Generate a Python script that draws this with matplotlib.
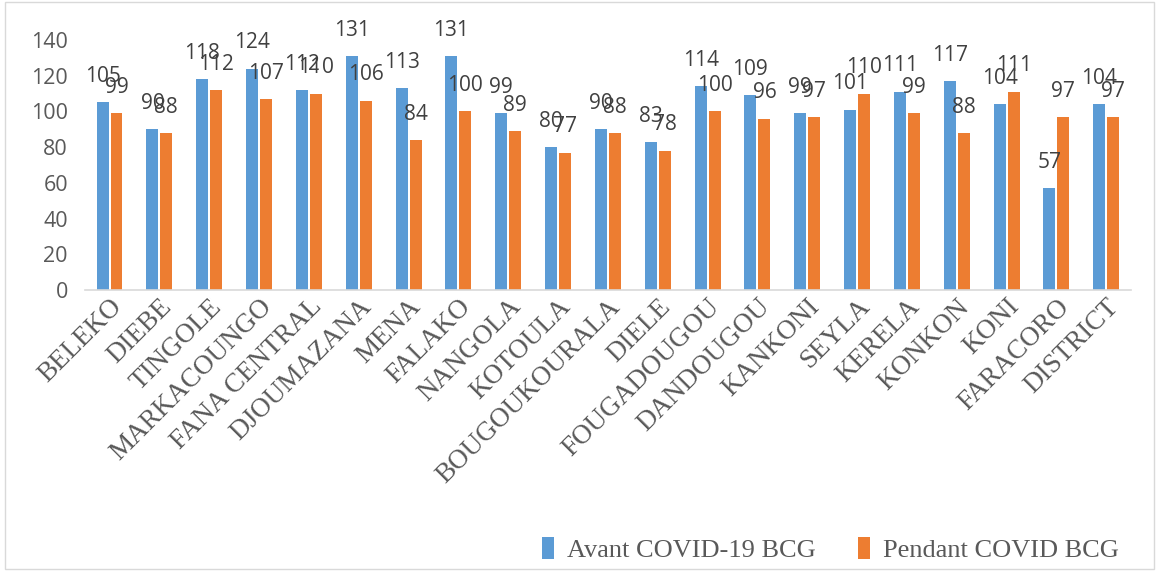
import numpy as np
import matplotlib
matplotlib.use("Agg")
from matplotlib import pyplot as plt
from matplotlib.patches import Rectangle

# aires de sante et couverture BCG
aires = ["BELEKO", "DIEBE", "TINGOLE", "MARKACOUNGO", "FANA CENTRAL", "DJOUMAZANA",
         "MENA", "FALAKO", "NANGOLA", "KOTOULA", "BOUGOUKOURALA", "DIELE",
         "FOUGADOUGOU", "DANDOUGOU", "KANKONI", "SEYLA", "KERELA", "KONKON",
         "KONI", "FARACORO", "DISTRICT"]
avant = [105, 90, 118, 124, 112, 131, 113, 131, 99, 80, 90, 83,
         114, 109, 99, 101, 111, 117, 104, 57, 104]
pendant = [99, 88, 112, 107, 110, 106, 84, 100, 89, 77, 88, 78,
           100, 96, 97, 110, 99, 88, 111, 97, 97]
y_ticks = [0, 20, 40, 60, 80, 100, 120, 140]

bleu = "#5B9BD5"
orange = "#ED7D31"

fig = plt.figure(figsize=(11.59, 5.71), dpi=100)
ax = fig.add_axes([0.073, 0.492, 0.903, 0.438])

x = np.arange(len(aires))
w = 0.24
b1 = ax.bar(x - w / 2 - 0.02, avant, w, color=bleu, label="Avant COVID-19 BCG")
b2 = ax.bar(x + w / 2 + 0.02, pendant, w, color=orange, label="Pendant COVID BCG")

for bars, vals in ((b1, avant), (b2, pendant)):
    for r, v in zip(bars, vals):
        ax.annotate(str(v), (r.get_x() + r.get_width() / 2, v),
                    xytext=(0, 11), textcoords="offset points",
                    ha="center", va="bottom", fontsize=15,
                    color="#404040", family="Open Sans")

ax.set_ylim(0, 140)
ax.set_xlim(-0.5, len(aires) - 0.5)
ax.set_yticks(y_ticks)
ax.set_yticklabels([str(t) for t in y_ticks], fontsize=15.5, color="#595959",
                   family="Open Sans")
ax.set_xticks(x)
ax.set_xticklabels(aires, rotation=45, ha="right", rotation_mode="anchor",
                   fontsize=19.5, color="#595959", family="Liberation Serif")
ax.tick_params(axis="both", length=0)
ax.tick_params(axis="y", pad=12)
ax.tick_params(axis="x", pad=3)

for s in ("top", "right", "left"):
    ax.spines[s].set_visible(False)
ax.spines["bottom"].set_color("#d9d9d9")
ax.spines["bottom"].set_linewidth(1.2)

leg = fig.legend(handles=[b1, b2], loc="center right", bbox_to_anchor=(0.986, 0.038),
                 ncol=2, frameon=False, handlelength=0.45, handleheight=0.9,
                 handletextpad=0.5, columnspacing=1.6,
                 prop={"family": "Liberation Serif", "size": 19})
for t in leg.get_texts():
    t.set_color("#595959")

fig.add_artist(Rectangle((0.004, 0.004), 0.992, 0.992, transform=fig.transFigure,
                         fill=False, edgecolor="#d9d9d9", linewidth=1))

fig.savefig("out.png", dpi=100)
